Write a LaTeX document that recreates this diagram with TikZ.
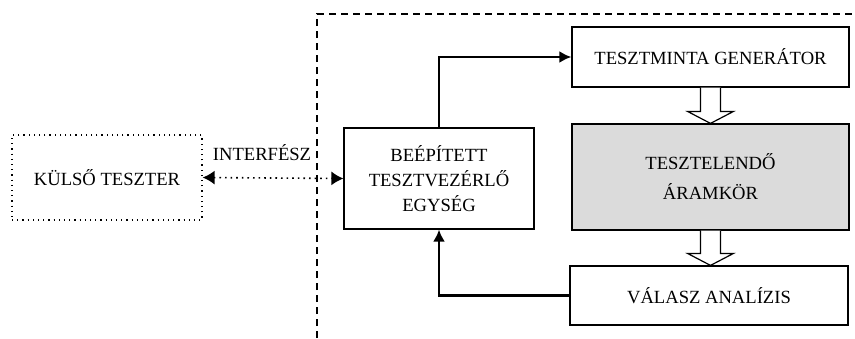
\documentclass[tikz,border=0pt]{standalone}
\usepackage{fontspec}
\setmainfont{Liberation Serif}
\usetikzlibrary{arrows.meta}

\tikzset{
  blokk/.style={draw, line width=0.6pt, align=center, inner sep=0pt,
    font=\fontsize{9.3}{12.5}\selectfont},
  vastag/.style={line width=1.2pt, -{Latex[length=6pt,width=6pt]}}
}

\begin{document}
\begin{tikzpicture}[x=0.5pt, y=-0.5pt]

\useasboundingbox (0,0) rectangle (855,338);

% a beepitett resz hatara
\draw[dashed, line width=0.7pt, dash pattern=on 3.5pt off 2.5pt] (317,338) |- (852,14);

\node[blokk, dotted, minimum width=95pt, minimum height=42.5pt] (kulso) at (107,177.5) {KÜLSŐ TESZTER};
\node[blokk, minimum width=95pt, minimum height=50.5pt] (bte) at (439,178.5) {BEÉPÍTETT\\TESZTVEZÉRLŐ\\EGYSÉG};
\node[blokk, minimum width=138.5pt, minimum height=30pt] (tpg) at (710.5,57) {TESZTMINTA GENERÁTOR};
\node[blokk, fill=black!14, minimum width=138.5pt, minimum height=53pt, font=\fontsize{9.3}{15}\selectfont] (dut) at (710.5,177) {TESZTELENDŐ\\ÁRAMKÖR};
\node[blokk, minimum width=139pt, minimum height=29.5pt] (valasz) at (709,295.5) {VÁLASZ ANALÍZIS};

\draw[dotted, line width=0.8pt, {Latex[length=6pt,width=7pt]}-{Latex[length=6pt,width=7pt]}] (kulso.east) -- (bte.west);
\node[font=\fontsize{9.3}{11}\selectfont] (iface) at (262,153) {INTERFÉSZ};

\draw[vastag] (bte.north) |- (tpg.west);
\draw[vastag] (valasz.west) -| (bte.south);

% ures nyilak
\foreach \a/\b in {tpg/dut, dut/valasz} {
  \coordinate (tip) at (\a.south |- \b.north);
  \draw[line width=0.6pt, fill=white] ([xshift=-5pt]\a.south) -- ([xshift=-5pt,yshift=6pt]tip)
    -- ([xshift=-11.5pt,yshift=6pt]tip) -- (tip) -- ([xshift=11.5pt,yshift=6pt]tip)
    -- ([xshift=5pt,yshift=6pt]tip) -- ([xshift=5pt]\a.south);
}

\end{tikzpicture}
\end{document}
